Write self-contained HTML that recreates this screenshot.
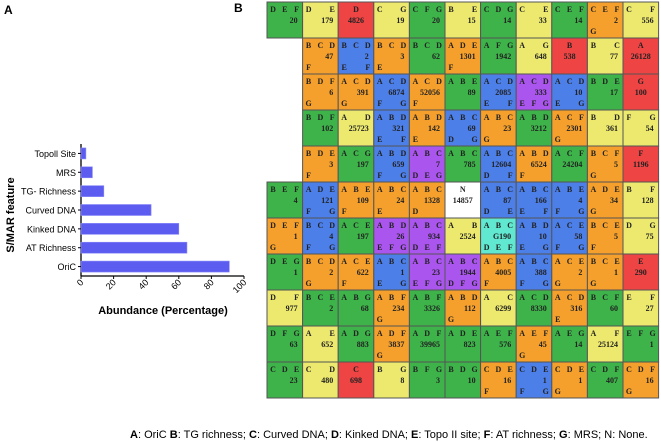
<!DOCTYPE html>
<html><head><meta charset="utf-8"><style>
body{margin:0;width:661px;height:442px;background:#fff;overflow:hidden;position:relative;font-family:"Liberation Sans",sans-serif}
svg{position:absolute;left:0;top:0}
</style></head><body>
<svg id="s" width="661" height="442">
<text x="4" y="14" font-size="12" font-weight="bold">A</text>
<text x="234" y="12" font-size="12" font-weight="bold">B</text>
<text transform="translate(14,215) rotate(-90)" text-anchor="middle" font-size="11" font-weight="bold">S/MAR feature</text>
<text x="163" y="314" text-anchor="middle" font-size="11" font-weight="bold">Abundance (Percentage)</text>
<g id="chart"></g>
<g id="grid"></g>
<text x="130" y="438" font-size="11"><tspan font-weight="bold">A</tspan>: OriC <tspan font-weight="bold">B</tspan>: TG richness; <tspan font-weight="bold">C</tspan>: Curved DNA; <tspan font-weight="bold">D</tspan>: Kinked DNA; <tspan font-weight="bold">E</tspan>: Topo II site; <tspan font-weight="bold">F</tspan>: AT richness; <tspan font-weight="bold">G</tspan>: MRS; N: None.</text>
</svg>
<script>
const categories=["Topoll Site","MRS","TG- Richness","Curved DNA","Kinked DNA","AT Richness","OriC"];
const values=[3,7,14,43,60,65,91];
const ticks=[0,20,40,60,80,100];
const NS="http://www.w3.org/2000/svg";
function mk(t,a,p){const e=document.createElementNS(NS,t);for(const k in a)e.setAttribute(k,a[k]);p.appendChild(e);return e;}
const ch=document.getElementById('chart');
const x0=81,x1=244,yTop=144,yBot=276;
const xs=v=>x0+(v-0)/(100-0)*(x1-x0);
const step=(yBot-yTop)/categories.length;
const yc=i=>yTop+step*(i+0.5);
let ax=mk('line',{x1:x0,y1:yTop,x2:x0,y2:yBot,stroke:'#000','stroke-width':1.3},ch);

let bx=mk('line',{x1:x0,y1:yBot,x2:x1,y2:yBot,stroke:'#000','stroke-width':1.3},ch);

categories.forEach((c,i)=>{
 const y=yc(i);
 const b=mk('rect',{x:x0,y:y-5.5,width:xs(values[i])-x0,height:11,fill:'#5c5cf0',stroke:'#8a8af8','stroke-width':0.6},ch);
 
 
 mk('line',{x1:x0-3,y1:y,x2:x0,y2:y,stroke:'#000'},ch);
 const t=mk('text',{x:x0-5,y:y+3.5,'text-anchor':'end','font-size':9},ch);t.textContent=c;
 
});
ticks.forEach(v=>{
 const x=xs(v);mk('line',{x1:x,y1:yBot,x2:x,y2:yBot+3,stroke:'#000'},ch);
 const t=mk('text',{transform:`translate(${x+3},${yBot+7}) rotate(-45)`,'text-anchor':'end','font-size':9},ch);t.textContent=v;
 
});
const colors={G:'#3db34a',Y:'#ece96e',R:'#ee4444',O:'#f5a02c',B:'#4d7fe8',P:'#aa55ee',C:'#60e8d0',W:'#ffffff'};
const rows=[
[0,"DEF|20||G","DE|179||Y","D|4826||R","CG|19||Y","CFG|20||G","BE|15||Y","CDG|14||G","CE|33||Y","CEF|14||G","CEF|2|G|O","CF|556||Y"],
[1,"BCD|47|F|O","BCD|2|EF|B","BCD|3|E|O","BCD|62||G","ADE|1301|F|O","AFG|1942||G","AG|648||Y","B|538||R","BC|77||Y","A|26128||R"],
[1,"BDF|6|G|O","ACD|391|G|O","ACD|6874|FG|B","ACD|52056|F|O","ABE|89||G","ACD|2085|EF|B","ACD|333|EFG|P","ACD|10|EG|B","BDE|17||G","G|100||R"],
[1,"BDF|102||G","AD|25723||Y","ABD|321|EF|B","ABD|142|E|O","ABC|69|DG|B","ABC|23|G|O","ABD|3212||G","ACF|2301|G|O","BD|361||Y","FG|54||Y"],
[1,"BDE|3|F|O","ACG|197||G","ABD|659|FG|B","ABC|7|DEG|P","ABC|785||G","ABC|12604|DF|B","ABD|6524|F|O","ACF|24204||G","BCF|5|G|O","F|1196||R"],
[0,"BEF|4||G","ADE|121|FG|B","ABE|109|F|O","ABC|24|E|O","ABC|1328|D|O","N|14857||W","ABC|87|DE|B","ABC|166|EF|B","ABE|4|FG|B","ADE|34|G|O","BF|128||Y"],
[0,"DEF|1|G|O","BCD|4|FG|B","ACE|197||G","ABD|26|EFG|P","ABC|934|DEF|P","AB|2524||Y","ABC|G190|DEF|C","ABD|10|EG|B","ACE|58|FG|B","BCE|5|F|O","DG|75||Y"],
[0,"DEG|1||G","BCD|2|G|O","ACE|622|F|O","ABC|1|EG|B","ABC|23|EFG|P","ABC|1944|DFG|P","ABC|4005|F|O","ABC|388|FG|B","ACE|2|G|O","BCE|1|G|O","E|290||R"],
[0,"DF|977||Y","BCE|2||G","ABG|68||G","ABF|234|G|O","ABF|3326||G","ABD|112|G|O","AC|6299||Y","ACD|8330||G","ACD|316|E|O","BCF|60||G","EF|27||Y"],
[0,"DFG|63||G","AE|652||Y","ADG|883||G","ADF|3837|G|O","ADF|39965||G","ADE|823||G","AEF|576||G","AEF|45|G|O","AEG|14||G","AF|25124||Y","EFG|1||G"],
[0,"CDE|23||G","CD|480||Y","C|698||R","BG|8||Y","BFG|3||G","BDG|10||G","CDE|16|F|O","CDE|1|FG|B","CDE|1|G|O","CDF|407||G","CDF|16|G|O"]];
const g=document.getElementById('grid');
const gx=267,gy=2,cw=35.6,rh=36;
function letters(str,y,x,cell,bottom){
 const L=str.split('');let pos;
 if(L.length===1)pos=bottom?[6]:[cw/2];else if(L.length===2)pos=[6,cw-6];else pos=[6,cw/2,cw-6];
 L.forEach((l,i)=>{const t=mk('text',{x:x+pos[i],y:y,'text-anchor':'middle'},cell);t.textContent=l;});
}
rows.forEach((r,ri)=>{
 const start=r[0];
 r.slice(1).forEach((c,ci)=>{
  const [top,num,bot,col]=c.split('|');
  const x=gx+(start+ci)*cw,y=gy+ri*rh;
  const cell=mk('g',{'font-family':'Liberation Serif, serif','font-size':8,'font-weight':'bold',fill:'#222'},g);
  
  
  mk('rect',{x:x,y:y,width:cw,height:rh,fill:colors[col],stroke:'#555','stroke-width':1},cell);
  letters(top,y+10,x,cell,false);
  const n=mk('text',top.length===1?{x:x+cw/2,y:y+21,'text-anchor':'middle'}:{x:x+cw-5,y:y+21,'text-anchor':'end'},cell);
  n.textContent=num;
  if(bot)letters(bot,y+32,x,cell,true);
 });
});
</script>
</body></html>
